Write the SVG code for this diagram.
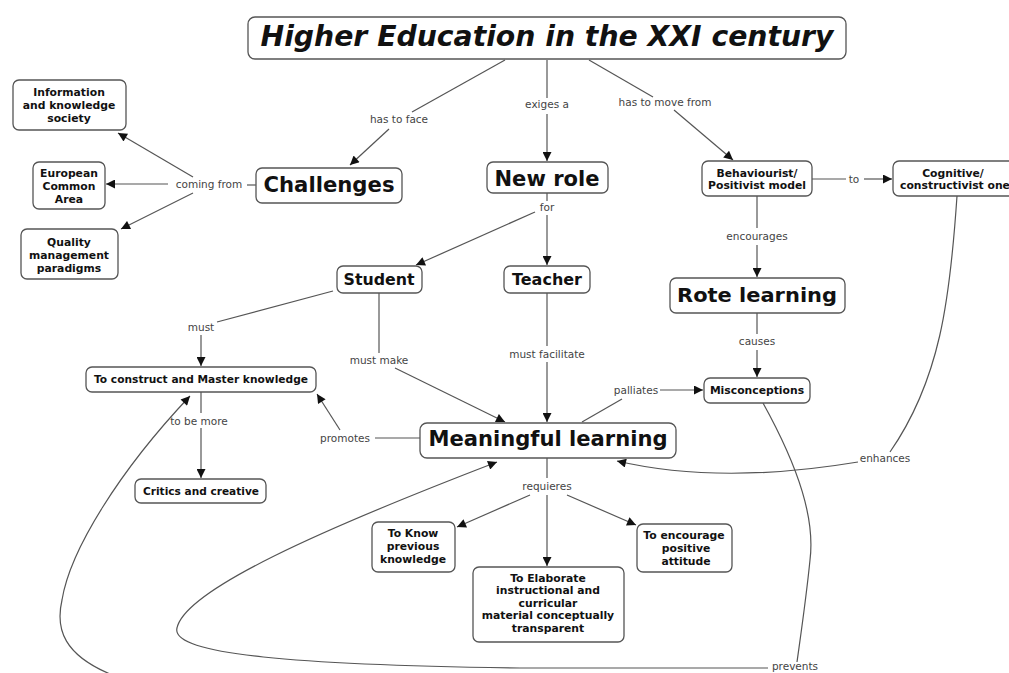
<svg xmlns="http://www.w3.org/2000/svg" width="1009" height="673" viewBox="0 0 1009 673">
<style>
.box{fill:#fff;stroke:#555;stroke-width:1.3}
.n{font-family:"DejaVu Sans",Verdana,sans-serif;font-weight:bold;fill:#111;text-anchor:middle;font-size:10.8px}
.big{font-size:21px}
.lbl{font-family:"DejaVu Sans",Verdana,sans-serif;font-size:10.5px;fill:#444;text-anchor:middle}
.c{fill:none;stroke:#555;stroke-width:1.2}
.a{marker-end:url(#arr)}
</style>
<defs>
<marker id="arr" viewBox="0 0 10 10" refX="10" refY="5" markerWidth="11" markerHeight="9" orient="auto" markerUnits="userSpaceOnUse">
<path d="M0,0 L10,5 L0,10 z" fill="#111"/>
</marker>
</defs>
<rect width="1009" height="673" fill="#fff"/>

<g id="connectors">
<path class="c" d="M505,60 L412,112"/>
<path class="c a" d="M389,129 L350,165"/>
<path class="c" d="M547,60 L547,98"/>
<path class="c a" d="M547,114 L547,161"/>
<path class="c" d="M589,60 L653,97"/>
<path class="c a" d="M674,110 L733,160"/>
<path class="c" d="M547,193 L547,201"/>
<path class="c a" d="M547,215 L547,265"/>
<path class="c a" d="M535,212 L416,265"/>
<path class="c" d="M812,179 L846,179"/>
<path class="c a" d="M864,179 L892,179"/>
<path class="c" d="M757,196 L757,228"/>
<path class="c a" d="M757,245 L757,277"/>
<path class="c" d="M757,313 L757,334"/>
<path class="c a" d="M757,350 L757,377"/>
<path class="c" d="M333,291 L217,322"/>
<path class="c a" d="M201,335 L201,366"/>
<path class="c" d="M379,293 L379,353"/>
<path class="c a" d="M395,368 L505,422"/>
<path class="c" d="M547,293 L547,346"/>
<path class="c a" d="M547,362 L547,422"/>
<path class="c" d="M582,422 L622,399"/>
<path class="c a" d="M660,390 L703,390"/>
<path class="c" d="M420,438 L375,438"/>
<path class="c a" d="M340,430 L317,394"/>
<path class="c" d="M201,392 L201,413"/>
<path class="c a" d="M201,428 L201,478"/>
<path class="c" d="M256,185 L247,185"/>
<path class="c a" d="M193,177 L118,133"/>
<path class="c a" d="M168,184 L106,184"/>
<path class="c a" d="M193,193 L121,229"/>
<path class="c" d="M547,458 L547,478"/>
<path class="c a" d="M530,495 L457,527"/>
<path class="c a" d="M547,495 L547,566"/>
<path class="c a" d="M567,495 L636,525"/>
<path class="c" d="M957,196 C950,300 940,380 890,452"/>
<path class="c a" d="M858,462 Q720,485 617,461"/>
<path class="c" d="M763,403 C800,470 815,520 810,560 C806,600 800,640 797,662"/>
<path class="c a" d="M768,668 L520,668 C300,665 170,655 177,628 C185,590 320,530 497,462"/>
<path class="c a" d="M110,674 C65,655 55,630 62,600 C70,550 120,470 190,396"/>

<text class="lbl" x="399" y="123">has to face</text>
<text class="lbl" x="547" y="108">exiges a</text>
<text class="lbl" x="665" y="106">has to move from</text>
<text class="lbl" x="547" y="211">for</text>
<text class="lbl" x="854" y="183">to</text>
<text class="lbl" x="757" y="240">encourages</text>
<text class="lbl" x="757" y="345">causes</text>
<text class="lbl" x="201" y="331">must</text>
<text class="lbl" x="379" y="364">must make</text>
<text class="lbl" x="547" y="358">must facilitate</text>
<text class="lbl" x="636" y="394">palliates</text>
<text class="lbl" x="345" y="442">promotes</text>
<text class="lbl" x="199" y="425">to be more</text>
<text class="lbl" x="209" y="188">coming from</text>
<text class="lbl" x="547" y="490">requieres</text>
<text class="lbl" x="885" y="462">enhances</text>
<text class="lbl" x="795" y="670">prevents</text>
</g>

<g id="title"><rect class="box" x="248" y="17" width="598" height="42" rx="7"/>
<text class="n" x="547" y="46" style="font-size:28px;font-style:italic" textLength="573" lengthAdjust="spacingAndGlyphs">Higher Education in the XXI century</text></g>
<g id="challenges"><rect class="box" x="256" y="168" width="146" height="35" rx="6"/>
<text class="n big" x="329" y="192" textLength="131" lengthAdjust="spacingAndGlyphs">Challenges</text></g>
<g id="newrole"><rect class="box" x="487" y="162" width="121" height="31" rx="6"/>
<text class="n big" x="547" y="186" textLength="105" lengthAdjust="spacingAndGlyphs">New role</text></g>
<g id="behaviourist"><rect class="box" x="702" y="161" width="110" height="35" rx="6"/>
<text class="n" x="757" y="177">Behaviourist/</text><text class="n" x="757" y="189">Positivist model</text></g>
<g id="cognitive"><rect class="box" x="893" y="161" width="125" height="35" rx="6"/>
<text class="n" x="953" y="177">Cognitive/</text><text class="n" x="955" y="189">constructivist one</text></g>
<g id="rote"><rect class="box" x="670" y="278" width="175" height="35" rx="6"/>
<text class="n" x="757" y="302" style="font-size:19.5px" textLength="160" lengthAdjust="spacingAndGlyphs">Rote learning</text></g>
<g id="misconceptions"><rect class="box" x="704" y="378" width="106" height="25" rx="6"/>
<text class="n" x="757" y="394">Misconceptions</text></g>
<g id="teacher"><rect class="box" x="504" y="266" width="86" height="27" rx="6"/>
<text class="n" x="547" y="285" style="font-size:15.5px" textLength="70" lengthAdjust="spacingAndGlyphs">Teacher</text></g>
<g id="student"><rect class="box" x="337" y="266" width="85" height="27" rx="6"/>
<text class="n" x="379" y="285" style="font-size:15.8px" textLength="71" lengthAdjust="spacingAndGlyphs">Student</text></g>
<g id="construct"><rect class="box" x="86" y="367" width="230" height="25" rx="6"/>
<text class="n" x="201" y="383" textLength="214" lengthAdjust="spacingAndGlyphs">To construct and Master knowledge</text></g>
<g id="critics"><rect class="box" x="135" y="479" width="131" height="24" rx="6"/>
<text class="n" x="201" y="495" textLength="116" lengthAdjust="spacingAndGlyphs">Critics and creative</text></g>
<g id="meaningful"><rect class="box" x="420" y="423" width="256" height="35" rx="7"/>
<text class="n" x="548" y="446" style="font-size:21px" textLength="239" lengthAdjust="spacingAndGlyphs">Meaningful learning</text></g>
<g id="toknow"><rect class="box" x="372" y="522" width="83" height="50" rx="6"/>
<text class="n" x="413" y="537">To Know</text><text class="n" x="413" y="550">previous</text><text class="n" x="413" y="563">knowledge</text></g>
<g id="elaborate"><rect class="box" x="473" y="567" width="151" height="75" rx="6"/>
<text class="n" x="548" y="582">To Elaborate</text><text class="n" x="548" y="594">instructional and</text><text class="n" x="548" y="607">curricular</text><text class="n" x="548" y="619">material conceptually</text><text class="n" x="548" y="632">transparent</text></g>
<g id="encourage"><rect class="box" x="637" y="524" width="95" height="48" rx="6"/>
<text class="n" x="684" y="539">To encourage</text><text class="n" x="686" y="552">positive</text><text class="n" x="686" y="565">attitude</text></g>
<g id="information"><rect class="box" x="13" y="80" width="113" height="50" rx="6"/>
<text class="n" x="69" y="96">Information</text><text class="n" x="69" y="109">and knowledge</text><text class="n" x="69" y="122">society</text></g>
<g id="european"><rect class="box" x="33" y="162" width="72" height="47" rx="6"/>
<text class="n" x="69" y="177">European</text><text class="n" x="69" y="190">Common</text><text class="n" x="69" y="203">Area</text></g>
<g id="quality"><rect class="box" x="21" y="229" width="97" height="50" rx="6"/>
<text class="n" x="69" y="246">Quality</text><text class="n" x="69" y="259">management</text><text class="n" x="69" y="272">paradigms</text></g>
</svg>
